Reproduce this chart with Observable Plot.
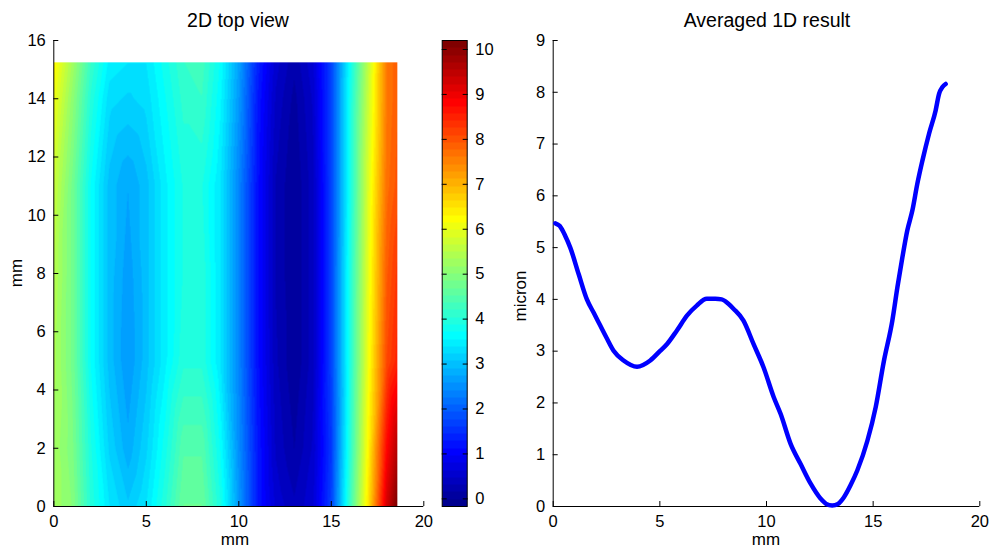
<!DOCTYPE html>
<html><head><meta charset="utf-8">
<script src="https://cdn.jsdelivr.net/npm/d3@7"></script>
<script src="https://cdn.jsdelivr.net/npm/@observablehq/plot@0.6"></script>
<style>
body{margin:0;background:#fff;}
#fig{position:relative;width:990px;height:553px;overflow:hidden;background:#fff;}
#fig svg{position:absolute;top:0;}
</style></head><body><div id="fig"></div>
<script>
// ---------- data ----------
const gridX = [0,1,2,3,4,5,6,7,8,9,10,11,12,13,14,15,16,17,18,18.57];
const gridY = [0,2,5,8,11,14,15.25];
const rowY0    = [5.3,5.0,4.0,3.4,3.1,3.4,4.0,4.7,4.7,3.9,2.6,1.3,0.6,0.35,0.6,1.7,4.2,6.5,9.3,10.2];
const rowY2    = [5.3,4.9,3.9,3.2,2.8,3.2,3.8,4.5,4.5,3.7,2.5,1.3,0.45,0.15,0.5,1.6,4.0,6.3,8.8,9.6];
const rowY5    = [5.4,4.8,3.7,3.0,2.6,3.0,3.5,4.0,4.0,3.4,2.4,1.2,0.35,0.0,0.4,1.7,3.9,6.1,8.1,8.5];
const rowY8    = [5.5,4.8,3.7,3.0,2.65,3.0,3.5,3.9,4.0,3.4,2.4,1.2,0.3,0.0,0.4,1.7,3.9,6.0,7.9,8.3];
const rowY11   = [5.7,4.8,3.7,3.0,2.75,3.0,3.5,3.9,3.9,3.4,2.4,1.2,0.3,0.0,0.4,1.7,3.8,5.9,7.7,8.0];
const rowY14   = [6.1,5.1,4.0,3.3,3.2,3.3,3.7,4.1,4.2,3.6,2.6,1.3,0.45,0.1,0.5,1.7,3.8,5.7,7.6,7.9];
const rowY1525 = [6.3,5.3,4.2,3.5,3.4,3.4,3.8,4.2,4.3,3.7,2.7,1.4,0.55,0.2,0.6,1.7,3.7,5.6,7.6,7.9];
const heatRows = [rowY0,rowY2,rowY5,rowY8,rowY11,rowY14,rowY1525];

const lineX = [0.1,0.3,0.56,0.8,1.2,1.58,1.9,2.2,2.5,2.83,3.3,3.93,4.55,5.0,5.34,5.8,6.28,6.73,7.2,7.6,7.9,8.2,8.45,8.92,9.39,9.86,10.34,10.66,11.13,11.6,12.07,12.54,12.8,13.08,13.35,13.63,13.95,14.26,14.73,15.12,15.5,15.9,16.14,16.37,16.6,16.84,17.07,17.31,17.62,17.93,18.09,18.25,18.4];
const lineY = [5.47,5.42,5.23,5.0,4.48,4.0,3.74,3.5,3.26,3.01,2.82,2.70,2.82,3.0,3.14,3.4,3.69,3.88,4.01,4.01,4.0,3.92,3.82,3.59,3.14,2.69,2.11,1.79,1.21,0.82,0.44,0.15,0.05,0.02,0.05,0.18,0.42,0.70,1.27,1.92,2.80,3.59,4.24,4.81,5.33,5.72,6.23,6.68,7.2,7.65,7.97,8.10,8.16];

const xTicks2D = [0,5,10,15,20];
const yTicks2D = [0,2,4,6,8,10,12,14,16];
const cbTicks = [0,1,2,3,4,5,6,7,8,9,10];
const xTicks1D = [0,5,10,15,20];
const yTicks1D = [0,1,2,3,4,5,6,7,8,9];
const cMin = -0.17, cMax = 10.2;

// ---------- jet(64) colormap ----------
function jet(m){
  const n = Math.ceil(m/4);
  const u = [];
  for(let i=1;i<=n;i++) u.push(i/n);
  for(let i=1;i<n;i++) u.push(1);
  for(let i=n;i>=1;i--) u.push(i/n);
  const g0 = Math.ceil(n/2) - (m%4===1?1:0);
  const J = Array.from({length:m},()=>[0,0,0]);
  u.forEach((v,k)=>{
    const g = g0 + k + 1, r = g + n, b = g - n;
    if(r>=1&&r<=m) J[r-1][0]=v;
    if(g>=1&&g<=m) J[g-1][1]=v;
    if(b>=1&&b<=m) J[b-1][2]=v;
  });
  return J.map(([r,g,b])=>`rgb(${Math.round(r*255)},${Math.round(g*255)},${Math.round(b*255)})`);
}
const jetColors = jet(64);
const thresholds = d3.range(1,64).map(i=>cMin+(cMax-cMin)*i/64);
const colorScale = {type:"threshold", domain:thresholds, range:jetColors};

const grid = [];
heatRows.forEach((row,j)=>row.forEach((v,i)=>grid.push({x:gridX[i], y:gridY[j], v})));
const lineData = lineX.map((x,i)=>({x, y:lineY[i]}));

const font = "'Liberation Sans', Arial, Helvetica, sans-serif";
const baseStyle = {fontFamily:font, fontSize:"16.5px", color:"#000", background:"transparent", overflow:"visible"};
const fig = document.getElementById("fig");

// ---------- left: 2D heatmap ----------
const left = Plot.plot({
  width:435, height:553, marginLeft:53.3, marginRight:11.7, marginTop:40, marginBottom:47,
  style:baseStyle,
  x:{domain:[0,20]}, y:{domain:[0,16]},
  color:colorScale,
  marks:[
    Plot.raster(grid,{x:"x", y:"y", fill:"v", interpolate:"barycentric", x1:0, x2:18.57, y1:0, y2:15.25, pixelSize:0.5}),
    Plot.ruleY([0],{stroke:"#000", strokeWidth:1}),
    Plot.ruleX([0],{stroke:"#000", strokeWidth:1}),
    Plot.axisX({ticks:xTicks2D, tickSize:-5, tickPadding:14, label:null, stroke:"#000"}),
    Plot.axisY({ticks:yTicks2D, tickSize:-5, tickPadding:13, label:null, stroke:"#000"})
  ]
});
left.style.left = "0px";
fig.appendChild(left);

// ---------- colorbar ----------
const cbar = Plot.plot({
  width:65, height:553, marginLeft:6.7, marginRight:33.3, marginTop:40, marginBottom:47,
  style:baseStyle,
  x:{domain:[0,1], axis:null}, y:{domain:[cMin,cMax]},
  color:colorScale,
  marks:[
    Plot.raster({x1:0, x2:1, y1:cMin, y2:cMax, fill:(x,y)=>y, width:1, height:466}),
    Plot.frame({stroke:"#000", strokeWidth:1}),
    Plot.axisY({anchor:"left", ticks:cbTicks, tickSize:-5, tickFormat:()=>"", label:null}),
    Plot.axisY({anchor:"right", ticks:cbTicks, tickSize:-5, tickPadding:13, label:null})
  ]
});
cbar.style.left = "435px";
fig.appendChild(cbar);

// ---------- right: 1D line ----------
const right = Plot.plot({
  width:500, height:553, marginLeft:62.7, marginRight:10.7, marginTop:40, marginBottom:47,
  style:baseStyle,
  x:{domain:[0,20]}, y:{domain:[0,9]},
  marks:[
    Plot.ruleY([0],{stroke:"#000", strokeWidth:1}),
    Plot.ruleX([0],{stroke:"#000", strokeWidth:1}),
    Plot.axisX({ticks:xTicks1D, tickSize:-5, tickPadding:14, label:null}),
    Plot.axisY({ticks:yTicks1D, tickSize:-5, tickPadding:13, label:null}),
    Plot.line(lineData,{x:"x", y:"y", stroke:"#0000ff", strokeWidth:4.5, curve:"monotone-x", strokeLinejoin:"round", strokeLinecap:"round"})
  ]
});
right.style.left = "490px";
fig.appendChild(right);

// ---------- titles and axis labels ----------
const ov = d3.select(fig).append("svg")
  .attr("width",990).attr("height",553).style("left","0px").style("pointer-events","none")
  .attr("font-family",font).attr("fill","#000");
ov.append("text").attr("x",238).attr("y",26.5).attr("text-anchor","middle").attr("font-size",19.5).text("2D top view");
ov.append("text").attr("x",767).attr("y",26.5).attr("text-anchor","middle").attr("font-size",19.5).text("Averaged 1D result");
ov.append("text").attr("x",235).attr("y",545).attr("text-anchor","middle").attr("font-size",17).text("mm");
ov.append("text").attr("x",766).attr("y",545).attr("text-anchor","middle").attr("font-size",17).text("mm");
ov.append("text").attr("transform","translate(22,273) rotate(-90)").attr("text-anchor","middle").attr("font-size",17).text("mm");
ov.append("text").attr("transform","translate(526,296) rotate(-90)").attr("text-anchor","middle").attr("font-size",17).text("micron");
</script></body></html>
